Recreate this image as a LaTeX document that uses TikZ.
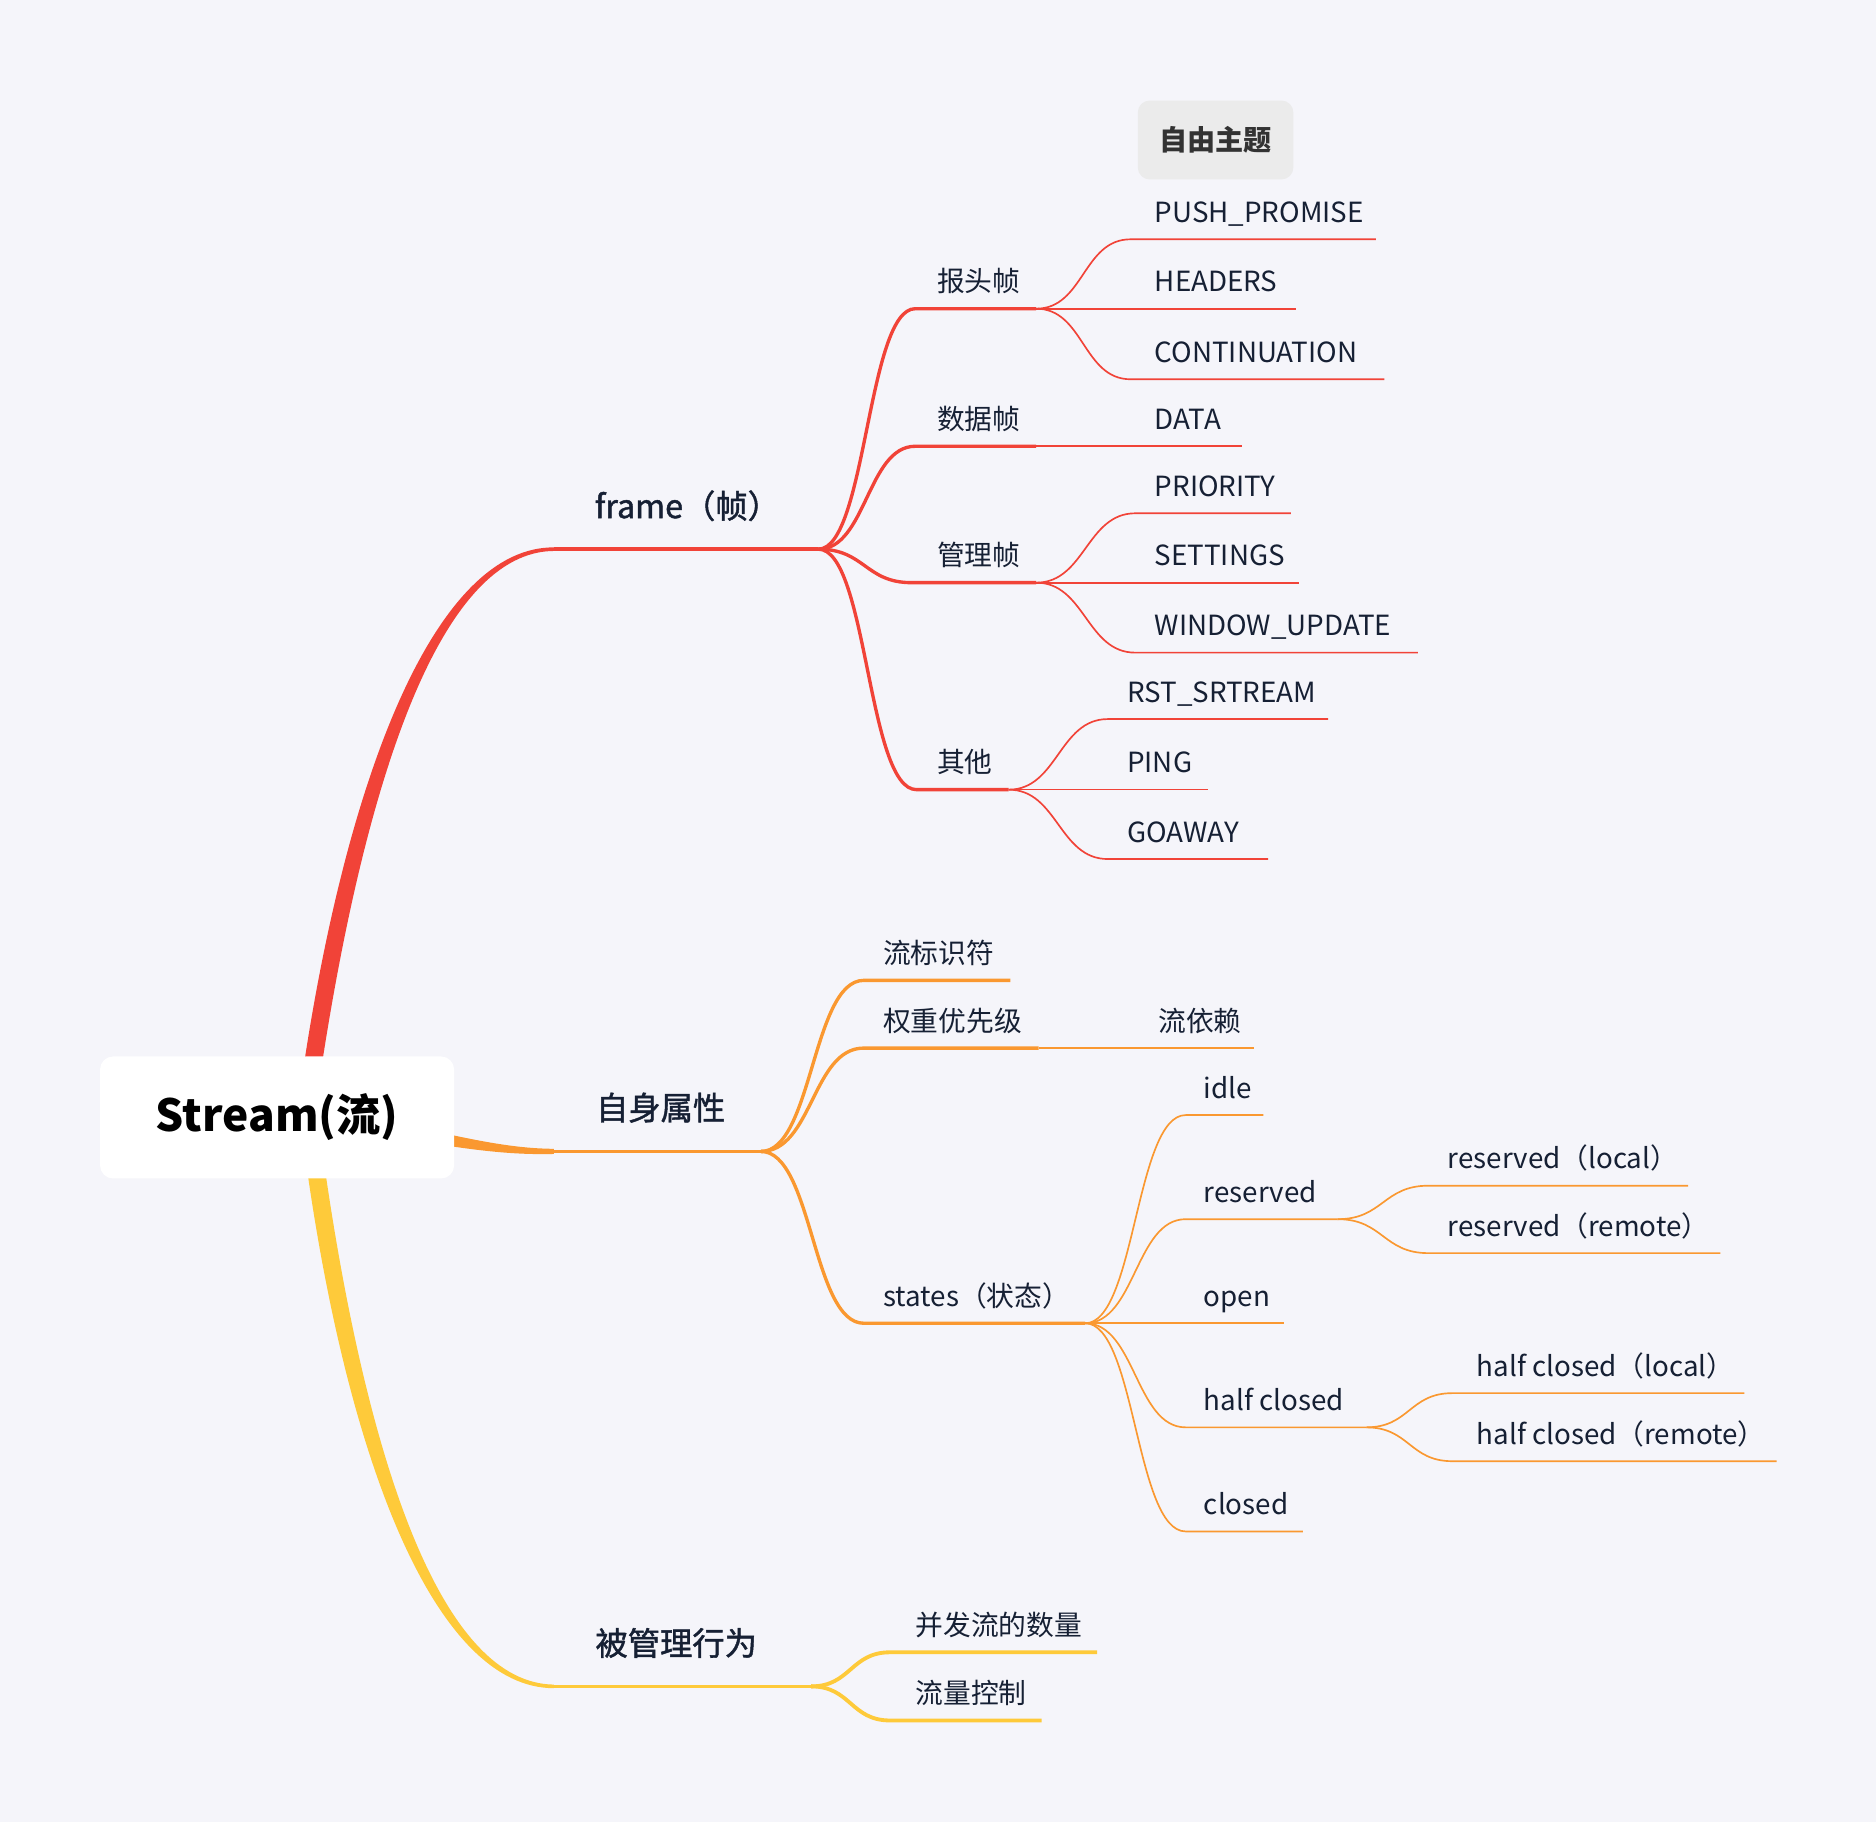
\documentclass[tikz,border=0pt]{standalone}
\usepackage{fontspec}
\setmainfont{Noto Sans CJK SC}
\newfontfamily\medfont[FakeBold=1.4]{Noto Sans CJK SC}

\definecolor{paper}{RGB}{245,245,250}
\definecolor{mmred}{RGB}{241,67,56}
\definecolor{mmorange}{RGB}{250,152,48}
\definecolor{mmyellow}{RGB}{254,202,58}
\definecolor{ink}{RGB}{22,32,52}
\definecolor{tagfill}{RGB}{235,235,235}
\definecolor{tagink}{RGB}{51,51,51}

\tikzset{
  topic/.style={anchor=base west, inner sep=0pt, text=ink, font=\fontsize{23.2}{28}\selectfont},
  maintopic/.style={topic, font=\medfont\fontsize{27}{32}\selectfont},
  rootbox/.style={fill=white, rounded corners=11pt, minimum width=296pt, minimum height=102pt,
    text=black, font=\bfseries\fontsize{37}{44}\selectfont},
  floatbox/.style={fill=tagfill, rounded corners=10pt, minimum width=130pt, minimum height=66pt,
    text=tagink, font=\bfseries\fontsize{23.5}{28}\selectfont},
  wide/.style={line width=2.8pt},
  fine/.style={line width=1.4pt},
}

\begin{document}
\begin{tikzpicture}[x=1pt, y=-1pt]
    \fill [paper] (0,0) rectangle (1568,1523);
    \useasboundingbox (0,0) rectangle (1568,1523);

    % thick branches out of the central topic
    \fill [mmred] (254,890) .. controls (292,640) and (366,457) .. (463,457.5)
        -- (463,460.5) .. controls (370,461) and (307,644) .. (269,890) -- cycle;
    \fill [mmorange] (370,947) .. controls (415,957) and (440,960) .. (463,960.2)
        -- (463,964.5) .. controls (440,965) and (415,964) .. (370,957) -- cycle;
    \fill [mmyellow] (257,980) .. controls (293,1230) and (366,1411) .. (463,1411)
        -- (463,1408) .. controls (370,1407) and (308,1226) .. (272,980) -- cycle;

    \path (231.6,934) node [rootbox] (root) {Stream(流)};
    \path (1016,117) node [floatbox] (float) {自由主题};

    % frame
    \path (463,459) coordinate (frame-a);
    \path (684,459) coordinate (frame-b);
    \path (497,433) node [maintopic] (frame) {frame（帧）};
    \draw [mmred, line width=3pt] (frame-a) -- (frame-b);

    \path (765,258) coordinate (hdr-a);
    \path (866,258) coordinate (hdr-b);
    \path (783,244) node [topic] (hdr) {报头帧};
    \path (765,373) coordinate (data-a);
    \path (866,373) coordinate (data-b);
    \path (783,359) node [topic] (data) {数据帧};
    \path (762,487) coordinate (mgmt-a);
    \path (866,487) coordinate (mgmt-b);
    \path (783,473) node [topic] (mgmt) {管理帧};
    \path (766,660) coordinate (misc-a);
    \path (843,660) coordinate (misc-b);
    \path (783,646) node [topic] (misc) {其他};

    \draw [mmred, wide] (frame-b) .. controls +(40,0) and +(-40,0) .. (hdr-a) -- (hdr-b);
    \draw [mmred, wide] (frame-b) .. controls +(40,0) and +(-40,0) .. (data-a) -- (data-b);
    \draw [mmred, wide] (frame-b) .. controls +(39,0) and +(-39,0) .. (mgmt-a) -- (mgmt-b);
    \draw [mmred, wide] (frame-b) .. controls +(41,0) and +(-41,0) .. (misc-a) -- (misc-b);

    \path (945,200) coordinate (push-a);
    \path (1150,200) coordinate (push-b);
    \path (965,186) node [topic] (push) {PUSH\_PROMISE};
    \path (1083,258) coordinate (headers-b);
    \path (965,244) node [topic] (headers) {HEADERS};
    \path (945,317) coordinate (cont-a);
    \path (1157,317) coordinate (cont-b);
    \path (965,303) node [topic] (cont) {CONTINUATION};
    \path (1038,373) coordinate (dataf-b);
    \path (965,359) node [topic] (dataf) {DATA};
    \path (949,429) coordinate (prio-a);
    \path (1079,429) coordinate (prio-b);
    \path (965,415) node [topic] (prio) {PRIORITY};
    \path (1086,487) coordinate (sett-b);
    \path (965,473) node [topic] (sett) {SETTINGS};
    \path (949,545.5) coordinate (winup-a);
    \path (1185,545.5) coordinate (winup-b);
    \path (965,531.5) node [topic] (winup) {WINDOW\_UPDATE};
    \path (926,601) coordinate (rst-a);
    \path (1110,601) coordinate (rst-b);
    \path (942,587) node [topic] (rst) {RST\_SRTREAM};
    \path (1010,660) coordinate (ping-b);
    \path (942,646) node [topic] (ping) {PING};
    \path (926,718) coordinate (goaway-a);
    \path (1060,718) coordinate (goaway-b);
    \path (942,704) node [topic] (goaway) {GOAWAY};

    \draw [mmred, fine] (hdr-b) .. controls +(40,0) and +(-40,0) .. (push-a) -- (push-b);
    \draw [mmred, fine] (hdr-b) -- (headers-b);
    \draw [mmred, fine] (hdr-b) .. controls +(40,0) and +(-40,0) .. (cont-a) -- (cont-b);
    \draw [mmred, fine] (data-b) -- (dataf-b);
    \draw [mmred, fine] (mgmt-b) .. controls +(41,0) and +(-41,0) .. (prio-a) -- (prio-b);
    \draw [mmred, fine] (mgmt-b) -- (sett-b);
    \draw [mmred, fine] (mgmt-b) .. controls +(41,0) and +(-41,0) .. (winup-a) -- (winup-b);
    \draw [mmred, fine] (misc-b) .. controls +(41,0) and +(-41,0) .. (rst-a) -- (rst-b);
    \draw [mmred, fine] (misc-b) -- (ping-b);
    \draw [mmred, fine] (misc-b) .. controls +(41,0) and +(-41,0) .. (goaway-a) -- (goaway-b);

    % own properties
    \path (463,962.4) coordinate (self-a);
    \path (636,962.4) coordinate (self-b);
    \path (498,936) node [maintopic] (self) {自身属性};
    \draw [mmorange, line width=3pt] (self-a) -- (self-b);

    \path (722,819.4) coordinate (sid-a);
    \path (844.5,819.4) coordinate (sid-b);
    \path (738,805.4) node [topic] (sid) {流标识符};
    \path (722,876) coordinate (wgt-a);
    \path (868,876) coordinate (wgt-b);
    \path (738,862) node [topic] (wgt) {权重优先级};
    \path (722,1106) coordinate (st-a);
    \path (907,1106) coordinate (st-b);
    \path (738,1092) node [topic] (st) {states（状态）};

    \draw [mmorange, wide] (self-b) .. controls +(43,0) and +(-43,0) .. (sid-a) -- (sid-b);
    \draw [mmorange, wide] (self-b) .. controls +(43,0) and +(-43,0) .. (wgt-a) -- (wgt-b);
    \draw [mmorange, wide] (self-b) .. controls +(43,0) and +(-43,0) .. (st-a) -- (st-b);

    \path (1048,876) coordinate (dep-b);
    \path (968,862) node [topic] (dep) {流依赖};
    \path (991,932) coordinate (idle-a);
    \path (1056,932) coordinate (idle-b);
    \path (1006,918) node [topic] (idle) {idle};
    \path (991,1019) coordinate (rsv-a);
    \path (1118,1019) coordinate (rsv-b);
    \path (1006,1005) node [topic] (rsv) {reserved};
    \path (1073,1106) coordinate (open-b);
    \path (1006,1092) node [topic] (open) {open};
    \path (991,1193) coordinate (hc-a);
    \path (1142,1193) coordinate (hc-b);
    \path (1006,1179) node [topic] (hc) {half closed};
    \path (991,1280) coordinate (cls-a);
    \path (1089,1280) coordinate (cls-b);
    \path (1006,1266) node [topic] (cls) {closed};

    \draw [mmorange, fine] (wgt-b) -- (dep-b);
    \draw [mmorange, fine] (st-b) .. controls +(42,0) and +(-42,0) .. (idle-a) -- (idle-b);
    \draw [mmorange, fine] (st-b) .. controls +(42,0) and +(-42,0) .. (rsv-a) -- (rsv-b);
    \draw [mmorange, fine] (st-b) -- (open-b);
    \draw [mmorange, fine] (st-b) .. controls +(42,0) and +(-42,0) .. (hc-a) -- (hc-b);
    \draw [mmorange, fine] (st-b) .. controls +(42,0) and +(-42,0) .. (cls-a) -- (cls-b);

    \path (1194,991) coordinate (rl-a);
    \path (1411,991) coordinate (rl-b);
    \path (1210,977) node [topic] (rl) {reserved（local）};
    \path (1194,1047.4) coordinate (rr-a);
    \path (1438,1047.4) coordinate (rr-b);
    \path (1210,1033.4) node [topic] (rr) {reserved（remote）};
    \path (1214,1164.4) coordinate (hl-a);
    \path (1458,1164.4) coordinate (hl-b);
    \path (1234,1150.4) node [topic] (hl) {half closed（local）};
    \path (1214,1221.3) coordinate (hr-a);
    \path (1485,1221.3) coordinate (hr-b);
    \path (1234,1207.3) node [topic] (hr) {half closed（remote）};

    \draw [mmorange, fine] (rsv-b) .. controls +(38,0) and +(-38,0) .. (rl-a) -- (rl-b);
    \draw [mmorange, fine] (rsv-b) .. controls +(38,0) and +(-38,0) .. (rr-a) -- (rr-b);
    \draw [mmorange, fine] (hc-b) .. controls +(36,0) and +(-36,0) .. (hl-a) -- (hl-b);
    \draw [mmorange, fine] (hc-b) .. controls +(36,0) and +(-36,0) .. (hr-a) -- (hr-b);

    % managed behaviour
    \path (463,1409.5) coordinate (mgd-a);
    \path (678,1409.5) coordinate (mgd-b);
    \path (497.5,1383.5) node [maintopic] (mgd) {被管理行为};
    \draw [mmyellow, line width=3pt] (mgd-a) -- (mgd-b);

    \path (744,1381) coordinate (conc-a);
    \path (917,1381) coordinate (conc-b);
    \path (765,1367) node [topic] (conc) {并发流的数量};
    \path (744,1438) coordinate (flow-a);
    \path (870.5,1438) coordinate (flow-b);
    \path (765,1424) node [topic] (flow) {流量控制};

    \draw [mmyellow, line width=3.2pt] (mgd-b) .. controls +(33,0) and +(-33,0) .. (conc-a) -- (conc-b);
    \draw [mmyellow, line width=3.2pt] (mgd-b) .. controls +(33,0) and +(-33,0) .. (flow-a) -- (flow-b);
\end{tikzpicture}
\end{document}
